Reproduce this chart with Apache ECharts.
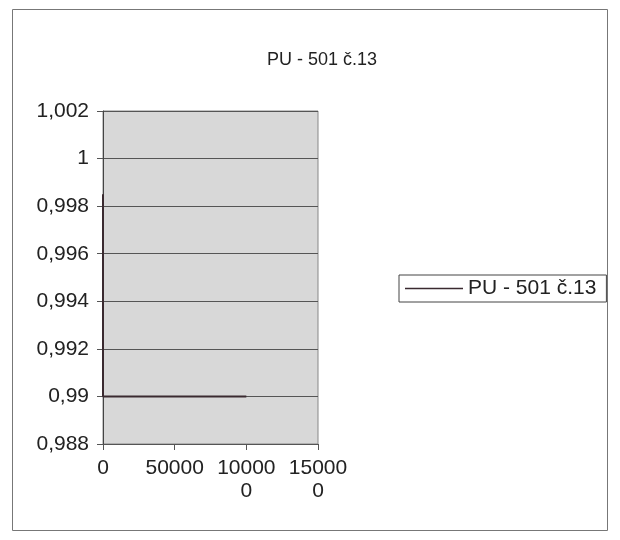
<!DOCTYPE html>
<html><head><meta charset="utf-8">
<script src="https://cdn.jsdelivr.net/npm/echarts@6/dist/echarts.min.js"></script>
<style>html,body{margin:0;padding:0;background:#fff}#c{width:620px;height:540px}</style>
</head><body><div id="c"></div>
<script>
const seriesName = 'PU - 501 č.13';
const xValues = [0, 0, 100000];
const yValues = [0.9985, 0.99, 0.99];
const xTickLabels = {0: '0', 50000: '50000', 100000: '10000\n0', 150000: '15000\n0'};
const yTicks = [0.988, 0.99, 0.992, 0.994, 0.996, 0.998, 1, 1.002];

const chart = echarts.init(document.getElementById('c'));
const font = 'Liberation Sans, Arial, sans-serif';
chart.setOption({
  animation: false,
  title: {text: seriesName, left: 262, top: 46, textStyle: {fontFamily: font, fontSize: 18, fontWeight: 'normal', color: '#222'}},
  graphic: [{type: 'rect', shape: {x: 12.5, y: 9.5, width: 595, height: 521}, style: {fill: 'none', stroke: '#777', lineWidth: 1}, z: -10}],
  grid: {left: 103, top: 111, width: 215, height: 333, show: true, backgroundColor: '#d8d8d8', borderColor: '#888', borderWidth: 1},
  legend: {
    data: [seriesName], left: 399, top: 275, orient: 'vertical',
    borderColor: '#444', borderWidth: 1, padding: [3, 10, 3, 6], itemWidth: 58, itemHeight: 10, itemGap: 4,
    textStyle: {fontFamily: font, fontSize: 21, color: '#222'}, icon: 'path://M0,5 L58,5 L58,6.5 L0,6.5 Z'
  },
  xAxis: {
    type: 'value', min: 0, max: 150000, interval: 50000,
    axisLine: {show: true, lineStyle: {color: '#555'}},
    axisTick: {show: true, length: 6, lineStyle: {color: '#555'}},
    splitLine: {show: false},
    axisLabel: {fontFamily: font, fontSize: 21, color: '#222', margin: 13, lineHeight: 23,
      formatter: v => xTickLabels[v] !== undefined ? xTickLabels[v] : ''}
  },
  yAxis: {
    type: 'value', min: 0.988, max: 1.002, interval: 0.002,
    axisLine: {show: true, lineStyle: {color: '#444'}},
    axisTick: {show: true, inside: false, length: 6, lineStyle: {color: '#555'}},
    splitLine: {show: true, lineStyle: {color: '#555', width: 1}},
    axisLabel: {fontFamily: font, fontSize: 21, color: '#222', margin: 14,
      formatter: v => {
        const r = yTicks.find(t => Math.abs(t - v) < 1e-9);
        return r === undefined ? '' : String(r).replace('.', ',');
      }}
  },
  series: [{
    name: seriesName, type: 'line', showSymbol: false,
    data: xValues.map((x, i) => [x, yValues[i]]),
    lineStyle: {color: '#3a2a30', width: 2}, itemStyle: {color: '#3a2a30'}
  }]
});
</script></body></html>
